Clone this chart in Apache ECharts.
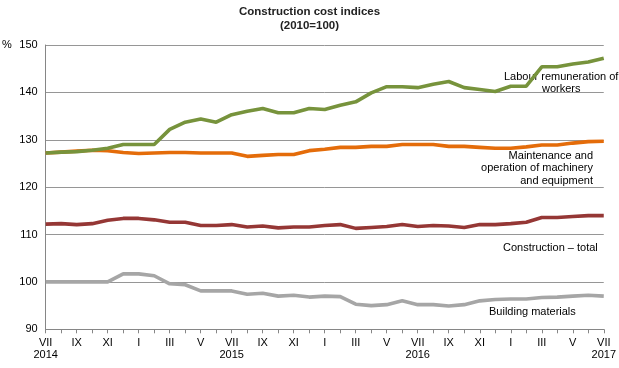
<!DOCTYPE html>
<html><head><meta charset="utf-8">
<script src="https://cdn.jsdelivr.net/npm/echarts@6/dist/echarts.min.js"></script>
<style>html,body{margin:0;padding:0;background:#fff}#c{width:619px;height:368px}</style>
</head><body><div id="c"></div>
<script>
const months = ['VII\n2014','VIII','IX','X','XI','XII','I','II','III','IV','V','VI',
 'VII\n2015','VIII','IX','X','XI','XII','I','II','III','IV','V','VI',
 'VII\n2016','VIII','IX','X','XI','XII','I','II','III','IV','V','VI','VII\n2017'];
const labour = [127.2,127.4,127.5,127.8,128.2,129.0,129.0,129.0,132.2,133.7,134.4,133.7,
 135.3,136.0,136.6,135.7,135.7,136.6,136.4,137.3,138.0,139.9,141.2,141.2,
 141.0,141.7,142.3,141.0,140.6,140.2,141.3,141.3,145.4,145.4,146.0,146.4,147.2];
const machinery = [127.2,127.4,127.6,127.8,127.7,127.3,127.1,127.2,127.3,127.3,127.2,127.2,
 127.2,126.5,126.7,126.9,126.9,127.7,128.0,128.4,128.4,128.6,128.6,129.0,
 129.0,129.0,128.6,128.6,128.4,128.2,128.2,128.5,128.9,128.9,129.3,129.6,129.7];
const total = [112.2,112.3,112.1,112.3,113.0,113.4,113.4,113.1,112.6,112.6,111.9,111.9,
 112.1,111.6,111.8,111.4,111.6,111.6,111.9,112.1,111.3,111.5,111.7,112.1,
 111.7,111.9,111.8,111.5,112.1,112.1,112.3,112.6,113.6,113.6,113.8,114.0,114.0];
const materials = [100.0,100.0,100.0,100.0,100.0,101.7,101.7,101.3,99.6,99.4,98.1,98.1,
 98.1,97.4,97.6,97.0,97.2,96.8,97.0,96.9,95.3,95.0,95.2,96.0,
 95.2,95.2,94.9,95.2,96.0,96.3,96.4,96.4,96.7,96.8,97.0,97.2,97.0];
const yTicks = [90,100,110,120,130,140,150];

const font = 'Liberation Sans, Arial, sans-serif';
const chart = echarts.init(document.getElementById('c'));
function line(name, data, color){
  return {name, type:'line', data, symbol:'none', smooth:false,
    lineStyle:{color, width:3.6}, itemStyle:{color}, z:3};
}
function txt(s, pos){
  return Object.assign({type:'text', style:{text:s, font:'11px '+font, fill:'#000'}}, pos);
}
chart.setOption({
  animation:false,
  textStyle:{fontFamily:font},
  title:{text:'Construction cost indices\n(2010=100)', left:'center', top:4.5, padding:0,
    textStyle:{fontSize:11.5, fontWeight:'bold', color:'#222', fontFamily:font, lineHeight:14.3}},
  grid:{left:45.7, right:14.7, top:45, bottom:38.7, containLabel:false},
  xAxis:{type:'category', data:months, boundaryGap:false,
    axisLine:{lineStyle:{color:'#868686', width:1}},
    axisTick:{show:true, interval:0, length:4, lineStyle:{color:'#868686'}},
    axisLabel:{interval:1, color:'#000', fontSize:11, fontFamily:font, lineHeight:12.5, margin:7},
    splitLine:{show:false}},
  yAxis:{type:'value', min:90, max:150, interval:10,
    axisLine:{show:true, lineStyle:{color:'#868686'}},
    axisTick:{show:false},
    axisLabel:{color:'#000', fontSize:11, fontFamily:font, margin:8},
    splitLine:{lineStyle:{color:'#969696', width:1}}},
  graphic:[
    txt('%', {left:2, top:39}),
    txt('Labour remuneration of', {left:504, top:71}),
    txt('workers', {left:542, top:83}),
    txt('Maintenance and', {right:26, top:150}),
    txt('operation of machinery', {right:26, top:162}),
    txt('and equipment', {right:26, top:175}),
    txt('Construction \u2013 total', {left:503, top:242}),
    txt('Building materials', {left:489, top:306})
  ],
  series:[
    line('Building materials', materials, '#A6A6A6'),
    line('Construction \u2013 total', total, '#953735'),
    line('Maintenance and operation of machinery and equipment', machinery, '#E46C0A'),
    line('Labour remuneration of workers', labour, '#77933C')
  ]
});
</script></body></html>
